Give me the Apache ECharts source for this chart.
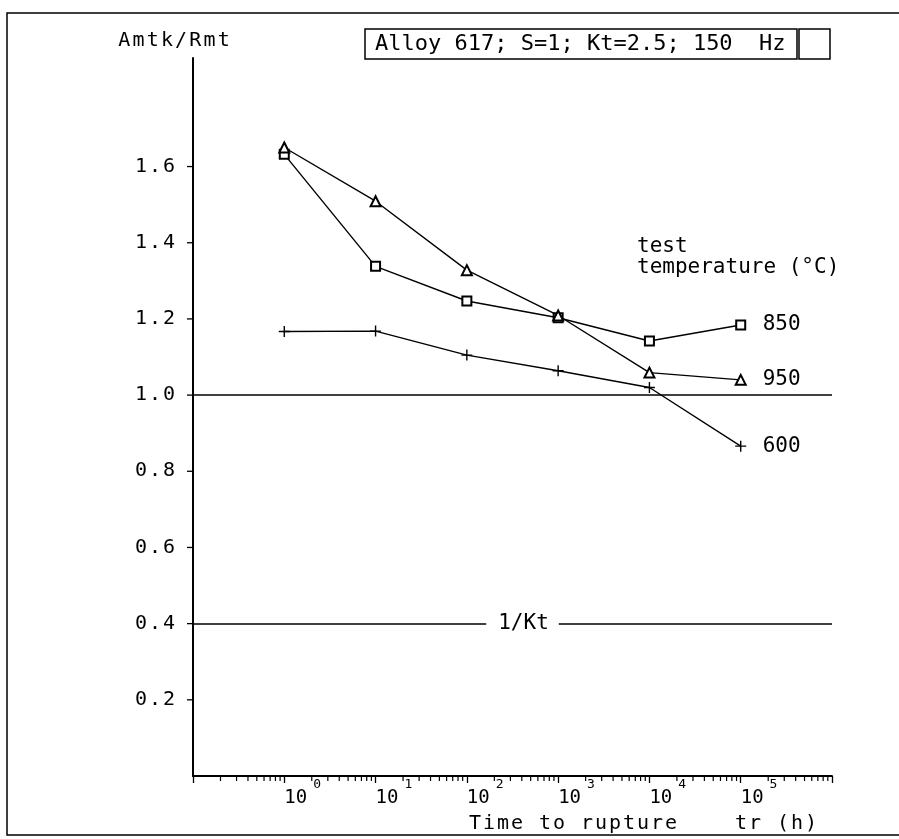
<!DOCTYPE html>
<html>
<head>
<meta charset="utf-8">
<script src="https://cdn.jsdelivr.net/npm/echarts@6/dist/echarts.min.js"></script>
<style>
  html, body { margin: 0; padding: 0; background: #fff; }
  #chart { width: 899px; height: 839px; }
</style>
</head>
<body>
<div id="chart"></div>
<script>
// Time to rupture tr (h) of the tested points
const timeToRupture = [1, 10, 100, 1000, 10000, 100000];
// Amtk/Rmt per test temperature (°C)
const ratio850 = [1.632, 1.338, 1.247, 1.203, 1.142, 1.184];
const ratio950 = [1.650, 1.509, 1.328, 1.209, 1.059, 1.040];
const ratio600 = [1.167, 1.168, 1.105, 1.064, 1.020, 0.866];
const temperatures = ['850', '950', '600'];
// reference levels: unity and 1/Kt (Kt = 2.5)
const unityLevel = 1.0;
const invKtLevel = 0.4;
// axes
const yTickLabels = [0.2, 0.4, 0.6, 0.8, 1.0, 1.2, 1.4, 1.6];
const xLabelExponents = [0, 1, 2, 3, 4, 5];
const minorMultipliers = [2, 3, 4, 5, 6, 7, 8, 9];
const xRange = [0.1, 1e6];
const yRange = [0, 1.885];

const MONO = 'DejaVu Sans Mono';

// plotter style text: every character in a fixed-width cell
function cells(str, style) {
  return str.split('').map(ch => '{' + style + '|' + (ch === ' ' ? '\u00a0' : ch) + '}').join('');
}

// minor log ticks inside every decade
const minorTicks = [];
for (let e = Math.log10(xRange[0]); e < Math.log10(xRange[1]); e++) {
  minorMultipliers.forEach(m => minorTicks.push([m * Math.pow(10, e), yRange[0]]));
}
const yTicks = yTickLabels.map(v => [xRange[0], v]);

const chart = echarts.init(document.getElementById('chart'), null, { renderer: 'canvas' });

function lineSeries(name, values, symbol, size) {
  return {
    name: name,
    type: 'line',
    data: timeToRupture.map((t, i) => [t, values[i]]),
    symbol: symbol,
    symbolSize: size,
    color: '#000',
    lineStyle: { color: '#000', width: 1.4 },
    itemStyle: { color: '#000', borderColor: '#000', borderWidth: 1.4 },
    endLabel: {
      show: true,
      formatter: name,
      distance: 22,
      fontFamily: MONO,
      fontSize: 21,
      color: '#000'
    },
    animation: false,
    silent: true,
    z: 3
  };
}

const plusPath = 'path://M0,5L10,5M5,0L5,10';

const s850 = lineSeries(temperatures[0], ratio850, 'emptyRect', 9);
s850.markLine = {
  silent: true,
  symbol: 'none',
  animation: false,
  lineStyle: { color: '#000', width: 1.6, type: 'solid' },
  data: [
    { yAxis: unityLevel, label: { show: false } },
    {
      yAxis: invKtLevel,
      label: {
        show: true,
        position: 'middle',
        distance: 0,
        verticalAlign: 'middle',
        offset: [10, 0],
        formatter: '1/Kt',
        fontFamily: MONO,
        fontSize: 21,
        color: '#000',
        backgroundColor: '#fff',
        padding: [2, 10, 2, 12]
      }
    }
  ]
};

const option = {
  backgroundColor: '#fff',
  animation: false,
  title: {
    text: 'Alloy 617; S=1; Kt=2.5; 150  Hz',
    left: 365,
    top: 29,
    padding: [4, 12, 3, 10],
    borderColor: '#000',
    borderWidth: 1.5,
    textStyle: {
      fontFamily: MONO,
      fontSize: 22,
      fontWeight: 'normal',
      color: '#000',
      lineHeight: 23
    }
  },
  grid: { left: 193, right: 67, top: 58, bottom: 61, containLabel: false },
  xAxis: {
    type: 'log',
    logBase: 10,
    min: xRange[0],
    max: xRange[1],
    splitNumber: 7,
    axisLine: { show: true, lineStyle: { color: '#000', width: 1.8 } },
    axisTick: { show: true, length: 7, lineStyle: { color: '#000', width: 1.3 } },
    splitLine: { show: false },
    minorTick: { show: false },
    axisLabel: {
      margin: 2,
      align: 'left',
      formatter: function (v) {
        const e = Math.round(Math.log10(v));
        if (xLabelExponents.indexOf(e) < 0) return '';
        return '{b|10}{s|' + e + '}';
      },
      rich: {
        b: { fontFamily: MONO, fontSize: 19, lineHeight: 40, color: '#000' },
        s: { fontFamily: MONO, fontSize: 13, lineHeight: 13, verticalAlign: 'top', padding: [0, 0, 0, 6], color: '#000' }
      }
    },
    name: cells('Time to rupture    tr (h)', 'c'),
    nameLocation: 'middle',
    nameGap: 38,
    nameTextStyle: {
      padding: [0, 0, 0, 261],
      rich: {
        c: { fontFamily: MONO, fontSize: 20, width: 14, align: 'center', color: '#000' }
      }
    }
  },
  yAxis: {
    type: 'value',
    min: yRange[0],
    max: yRange[1],
    interval: 0.2,
    axisLine: { show: true, lineStyle: { color: '#000', width: 2 } },
    axisTick: { show: false },
    splitLine: { show: false },
    axisLabel: {
      margin: 17,
      formatter: function (v) {
        const hit = yTickLabels.some(t => Math.abs(t - v) < 1e-6);
        return hit ? cells(v.toFixed(1), 'c') : '';
      },
      rich: {
        c: { fontFamily: MONO, fontSize: 20, width: 14, align: 'center', color: '#000' }
      }
    },
    name: cells('Amtk/Rmt', 'c'),
    nameLocation: 'end',
    nameGap: 7,
    nameTextStyle: {
      padding: [0, 38, 0, 0],
      rich: {
        c: { fontFamily: MONO, fontSize: 20, width: 14.2, align: 'center', color: '#000' }
      }
    }
  },
  series: [
    s850,
    lineSeries(temperatures[1], ratio950, 'emptyTriangle', 10),
    lineSeries(temperatures[2], ratio600, plusPath, 11),
    {
      // minor decade ticks hanging below the time axis
      type: 'custom',
      data: minorTicks,
      clip: false,
      silent: true,
      animation: false,
      renderItem: function (params, api) {
        const p = api.coord([api.value(0), api.value(1)]);
        return {
          type: 'line',
          shape: { x1: p[0], y1: p[1], x2: p[0], y2: p[1] + 5 },
          style: { stroke: '#000', lineWidth: 1.2 }
        };
      }
    },
    {
      // ticks on the ratio axis at the labelled values
      type: 'custom',
      data: yTicks,
      clip: false,
      silent: true,
      animation: false,
      renderItem: function (params, api) {
        const p = api.coord([api.value(0), api.value(1)]);
        return {
          type: 'line',
          shape: { x1: p[0] - 6, y1: p[1], x2: p[0], y2: p[1] },
          style: { stroke: '#000', lineWidth: 1.3 }
        };
      }
    }
  ],
  graphic: [
    {
      type: 'rect',
      shape: { x: 7, y: 13, width: 900, height: 822 },
      style: { fill: null, stroke: '#000', lineWidth: 1.5 },
      silent: true
    },
    {
      type: 'rect',
      shape: { x: 799, y: 29, width: 31, height: 30 },
      style: { fill: null, stroke: '#000', lineWidth: 1.5 },
      silent: true
    },
    {
      type: 'text',
      left: 637,
      top: 236,
      style: {
        text: 'test\ntemperature (°C)',
        fontFamily: MONO,
        fontSize: 21,
        lineHeight: 21,
        fill: '#000'
      },
      silent: true
    }
  ]
};

chart.setOption(option);
</script>
</body>
</html>
